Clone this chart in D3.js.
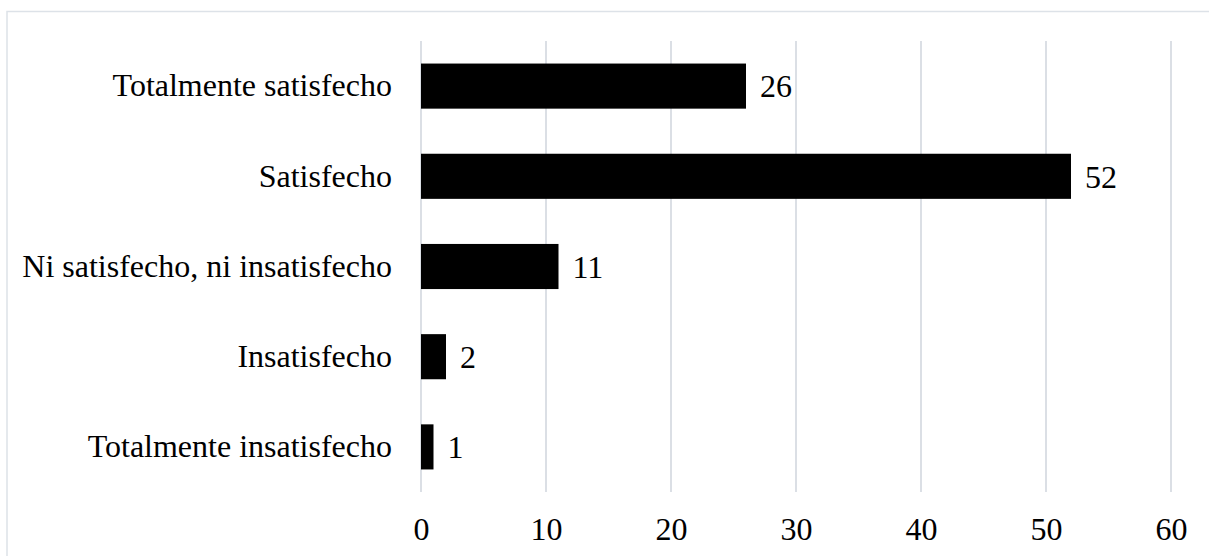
<!DOCTYPE html>
<html>
<head>
<meta charset="utf-8">
<script src="https://cdn.jsdelivr.net/npm/d3@7"></script>
<style>
  html, body { margin: 0; padding: 0; background: #fff; overflow: hidden; }
  svg text { font-family: "Liberation Serif", "Times New Roman", serif; fill: #000; }
</style>
</head>
<body>
<div id="chart"></div>
<script>
// Chart data
const categories = [
    "Totalmente satisfecho",
    "Satisfecho",
    "Ni satisfecho, ni insatisfecho",
    "Insatisfecho",
    "Totalmente insatisfecho"
];
const values = [26, 52, 11, 2, 1];
const xTicks = [0, 10, 20, 30, 40, 50, 60];

const width = 1209;
const height = 556;

// Plot area
const plotLeft = 421;
const plotRight = 1171;
const plotTop = 41;
const plotBottom = 492;
const fontSize = 32;
const serif = "'Liberation Serif', 'Times New Roman', serif";

const svg = d3.select("#chart")
    .append("svg")
        .attr("width", width)
        .attr("height", height);

// Outer chart border (runs off the right and bottom edges)
svg.append("rect")
    .attr("x", 7)
    .attr("y", 11.5)
    .attr("width", width)
    .attr("height", height)
    .attr("fill", "none")
    .attr("stroke", "#dde2e8")
    .attr("stroke-width", 1.5);

const x = d3.scaleLinear()
    .domain([0, 60])
    .range([plotLeft, plotRight]);

const y = d3.scaleBand()
    .domain(categories)
    .range([plotTop, plotBottom])
    .paddingInner(0.5)
    .paddingOuter(0.25);

// Vertical gridlines
svg.append("g")
    .selectAll("line")
    .data(xTicks)
    .enter()
    .append("line")
        .attr("x1", function (d) { return x(d); })
        .attr("x2", function (d) { return x(d); })
        .attr("y1", plotTop)
        .attr("y2", plotBottom)
        .attr("stroke", "#dbdfe5")
        .attr("stroke-width", 2);

// X axis labels
const xAxis = d3.axisBottom(x)
    .tickValues(xTicks)
    .tickSize(0)
    .tickPadding(0);
const xAxisG = svg.append("g")
    .attr("transform", "translate(0," + (plotBottom + 26) + ")")
    .call(xAxis);
xAxisG.select(".domain").remove();
xAxisG.selectAll("text")
    .attr("font-size", fontSize)
    .attr("font-family", serif)
    .attr("dy", "0.69em");

// Y axis labels
const yAxis = d3.axisLeft(y)
    .tickSize(0)
    .tickPadding(29);
const yAxisG = svg.append("g")
    .attr("transform", "translate(" + plotLeft + ",0)")
    .call(yAxis);
yAxisG.select(".domain").remove();
yAxisG.selectAll("text")
    .attr("font-size", fontSize)
    .attr("font-family", serif);

// Bars
svg.append("g")
    .selectAll("rect")
    .data(values)
    .enter()
    .append("rect")
        .attr("x", x(0))
        .attr("y", function (d, i) { return y(categories[i]); })
        .attr("width", function (d) { return x(d) - x(0); })
        .attr("height", y.bandwidth())
        .attr("fill", "#000");

// Value labels
svg.append("g")
    .selectAll("text")
    .data(values)
    .enter()
    .append("text")
        .attr("x", function (d) { return x(d) + 14; })
        .attr("y", function (d, i) { return y(categories[i]) + y.bandwidth() / 2; })
        .attr("dy", "0.35em")
        .attr("font-size", fontSize)
        .attr("font-family", serif)
        .text(function (d) { return d; });
</script>
</body>
</html>
